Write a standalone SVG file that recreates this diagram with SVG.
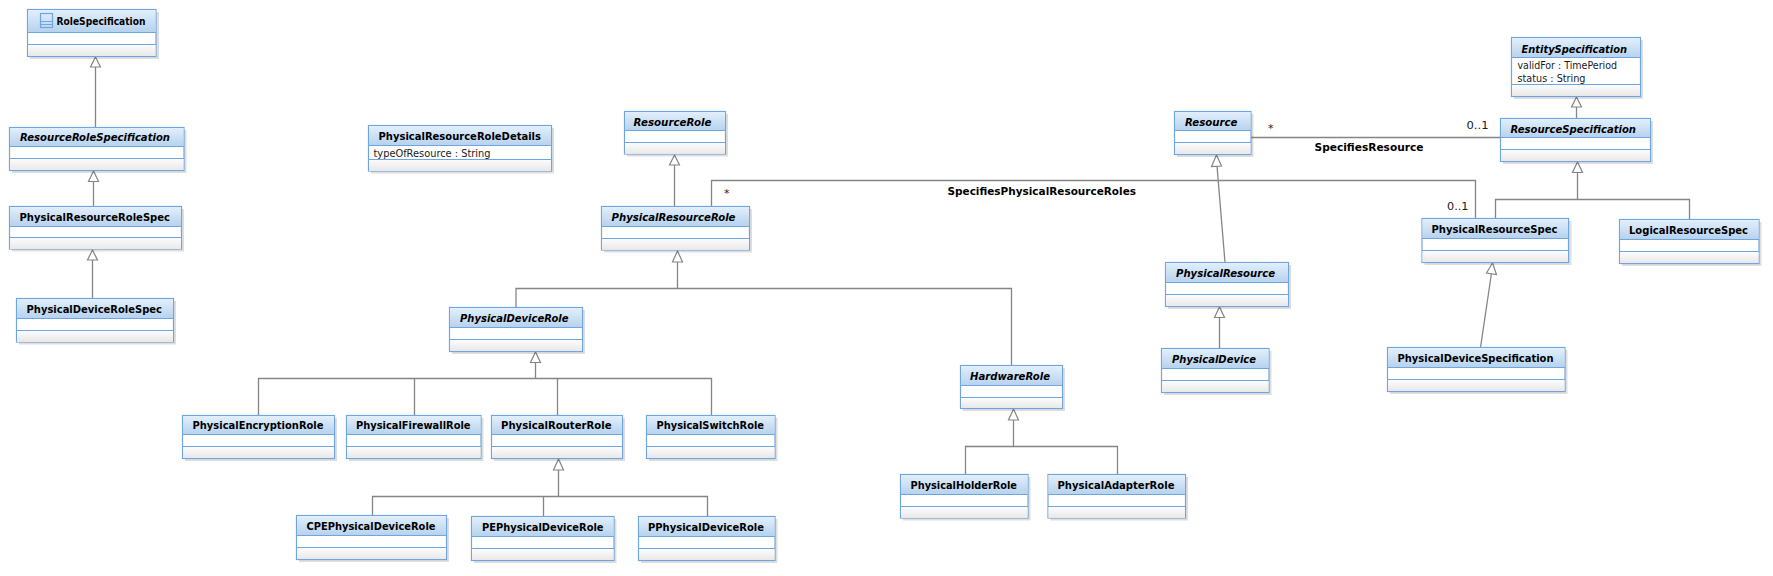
<svg xmlns="http://www.w3.org/2000/svg" width="1773" height="576" viewBox="0 0 1773 576">
<style>
.bg{fill:#fff}
.sh{fill:#000;fill-opacity:.13}
.f{fill:#fff;stroke:#6fa5e0;stroke-width:1.2}
.h{fill:url(#hg)}
.b{fill:url(#bg)}
.l{stroke:#6fa5e0;stroke-width:1.2;fill:none}
.c{fill:none;stroke:#858585;stroke-width:1.3}
.a{fill:#fff;stroke:#858585;stroke-width:1.2}
text{font-family:"DejaVu Sans",Tahoma,sans-serif;font-size:11px;fill:#000}
.t{font-weight:bold}
.i{font-weight:bold;font-style:italic}
.n{font-size:11px;fill:#1a1a1a}
</style>
<defs>
<linearGradient id="hg" x1="0" y1="0" x2="0" y2="1"><stop offset="0" stop-color="#e2effb"/><stop offset="1" stop-color="#b6d2ee"/></linearGradient>
<linearGradient id="bg" x1="0" y1="0" x2="0" y2="1"><stop offset="0" stop-color="#fdfdfd"/><stop offset="1" stop-color="#e8e8e8"/></linearGradient>
</defs>
<rect class="bg" width="1773" height="576"/>
<g id="connectors">
<path class="c" d="M95.500 67V127.500M93.500 182V206.500M92.500 260V298.500"/>
<path class="a" d="M95.500 57l-5 10h10zM93.500 171l-5 10.500h10zM92.500 250l-5 10h10z"/>
<path class="c" d="M674.500 165V206.500M711.500 206.500V180.500H1475.500V218.500"/>
<path class="a" d="M674.500 155l-5 10h10z"/>
<path class="c" d="M677.500 262V288.500M516 307.500V288.500H1011.500V365.500"/>
<path class="a" d="M677.500 251l-5 11h10z"/>
<path class="c" d="M535.500 362.500V378.500M258.500 415.500V378.500H711.500V415.500M414.500 378.500V415.500M557.500 378.500V415.500"/>
<path class="a" d="M535.500 352l-5 10.500h10z"/>
<path class="c" d="M558.500 470V496.500M372.500 515.500V496.500H707.500V516.500M543.500 496.500V516.500"/>
<path class="a" d="M558.500 459l-5 11h10z"/>
<path class="c" d="M1013.500 420V446.500M965.500 474.500V446.500H1117.500V474.500"/>
<path class="a" d="M1013.500 409l-5 11h10z"/>
<path class="c" d="M1251 137.500H1500.500"/>
<path class="c" d="M1217 166L1225 262.500"/>
<path class="a" d="M1216.500 155l-5 11.500 10 -.5z"/>
<path class="c" d="M1219.500 317.500V348.500"/>
<path class="a" d="M1219.500 307l-5 10.500h10z"/>
<path class="c" d="M1576.500 107V118.500"/>
<path class="a" d="M1576.500 97l-5 10h10z"/>
<path class="c" d="M1577.500 172V199.500M1495.500 218.500V199.500H1689.500V219.500"/>
<path class="a" d="M1577.500 162l-5 10.500h10z"/>
<path class="c" d="M1480.500 347.500L1491.500 273"/>
<path class="a" d="M1492.500 263l-6 10 10 1.500z"/>
<text class="n" x="724" y="197">*</text>
<text class="n" x="1268" y="132">*</text>
<text class="n" x="1466.500" y="129" textLength="22" lengthAdjust="spacingAndGlyphs">0..1</text>
<text class="n" x="1447" y="210" textLength="21.500" lengthAdjust="spacingAndGlyphs">0..1</text>
<text class="t" x="1314.500" y="150.500" textLength="109" lengthAdjust="spacingAndGlyphs">SpecifiesResource</text>
<text class="t" x="947.500" y="195" textLength="188.500" lengthAdjust="spacingAndGlyphs">SpecifiesPhysicalResourceRoles</text>
</g>
<g id="RoleSpecification"><rect class="sh" x="30" y="12" width="129" height="47"/><rect class="f" x="27.500" y="9.500" width="128.500" height="47"/><rect class="h" x="28" y="10" width="127.500" height="22"/><rect class="b" x="28" y="44" width="127.500" height="12"/><path class="l" d="M27.500 32.500H156M27.500 44.500H156"/><rect class="f" x="40.500" y="13.500" width="12" height="14" fill-opacity="0"/><path class="l" d="M40.500 21.500H52.500M40.500 24.500H52.500"/><text class="t" x="56.500" y="25" textLength="89" lengthAdjust="spacingAndGlyphs">RoleSpecification</text></g>
<g id="ResourceRoleSpecification"><rect class="sh" x="12" y="130" width="174.500" height="43"/><rect class="f" x="9.500" y="127.500" width="174.500" height="43"/><rect class="h" x="10" y="128" width="173.500" height="18"/><rect class="b" x="10" y="158" width="173.500" height="12"/><path class="l" d="M9.500 146.500H184M9.500 158.500H184"/><text class="i" x="20" y="141" textLength="150" lengthAdjust="spacingAndGlyphs">ResourceRoleSpecification</text></g>
<g id="PhysicalResourceRoleSpec"><rect class="sh" x="12" y="209" width="172" height="42.500"/><rect class="f" x="9.500" y="206.500" width="172" height="42.500"/><rect class="h" x="10" y="207" width="171" height="19"/><rect class="b" x="10" y="237" width="171" height="12"/><path class="l" d="M9.500 226.500H181.500M9.500 237.500H181.500"/><text class="t" x="19.500" y="220.500" textLength="150.500" lengthAdjust="spacingAndGlyphs">PhysicalResourceRoleSpec</text></g>
<g id="PhysicalDeviceRoleSpec"><rect class="sh" x="19" y="301" width="157" height="43.500"/><rect class="f" x="16.500" y="298.500" width="157" height="43.500"/><rect class="h" x="17" y="299" width="156" height="19"/><rect class="b" x="17" y="330" width="156" height="12"/><path class="l" d="M16.500 318.500H173.500M16.500 330.500H173.500"/><text class="t" x="26.500" y="312.500" textLength="135.500" lengthAdjust="spacingAndGlyphs">PhysicalDeviceRoleSpec</text></g>
<g id="PhysicalResourceRoleDetails"><rect class="sh" x="371" y="128" width="183" height="45.500"/><rect class="f" x="368.500" y="125.500" width="183" height="45.500"/><rect class="h" x="369" y="126" width="182" height="19.500"/><rect class="b" x="369" y="159" width="182" height="12"/><path class="l" d="M368.500 145.500H551.500M368.500 159.500H551.500"/><text class="t" x="378.500" y="140" textLength="162.500" lengthAdjust="spacingAndGlyphs">PhysicalResourceRoleDetails</text><text class="n" x="373.500" y="156.500" textLength="117" lengthAdjust="spacingAndGlyphs">typeOfResource : String</text></g>
<g id="ResourceRole"><rect class="sh" x="627" y="114" width="101" height="42.500"/><rect class="f" x="624.500" y="111.500" width="101" height="42.500"/><rect class="h" x="625" y="112" width="100" height="18.500"/><rect class="b" x="625" y="142" width="100" height="12"/><path class="l" d="M624.500 130.500H725.500M624.500 142.500H725.500"/><text class="i" x="633.500" y="126" textLength="78" lengthAdjust="spacingAndGlyphs">ResourceRole</text></g>
<g id="PhysicalResourceRole"><rect class="sh" x="604" y="209" width="148" height="43.500"/><rect class="f" x="601.500" y="206.500" width="148" height="43.500"/><rect class="h" x="602" y="207" width="147" height="19"/><rect class="b" x="602" y="238" width="147" height="12"/><path class="l" d="M601.500 226.500H749.500M601.500 238.500H749.500"/><text class="i" x="611.500" y="220.500" textLength="124" lengthAdjust="spacingAndGlyphs">PhysicalResourceRole</text></g>
<g id="PhysicalDeviceRole"><rect class="sh" x="452" y="310" width="133" height="44"/><rect class="f" x="449.500" y="307.500" width="133" height="44"/><rect class="h" x="450" y="308" width="132" height="19.500"/><rect class="b" x="450" y="340" width="132" height="11"/><path class="l" d="M449.500 327.500H582.500M449.500 339.500H582.500"/><text class="i" x="460" y="321.500" textLength="108.500" lengthAdjust="spacingAndGlyphs">PhysicalDeviceRole</text></g>
<g id="PhysicalEncryptionRole"><rect class="sh" x="185" y="418" width="152" height="43"/><rect class="f" x="182.500" y="415.500" width="152" height="43"/><rect class="h" x="183" y="416" width="151" height="18.500"/><rect class="b" x="183" y="447" width="151" height="11"/><path class="l" d="M182.500 434.500H334.500M182.500 446.500H334.500"/><text class="t" x="192.500" y="428.500" textLength="131" lengthAdjust="spacingAndGlyphs">PhysicalEncryptionRole</text></g>
<g id="PhysicalFirewallRole"><rect class="sh" x="349" y="418" width="134.500" height="43"/><rect class="f" x="346.500" y="415.500" width="134.500" height="43"/><rect class="h" x="347" y="416" width="133.500" height="18.500"/><rect class="b" x="347" y="447" width="133.500" height="11"/><path class="l" d="M346.500 434.500H481M346.500 446.500H481"/><text class="t" x="356" y="428.500" textLength="114.500" lengthAdjust="spacingAndGlyphs">PhysicalFirewallRole</text></g>
<g id="PhysicalRouterRole"><rect class="sh" x="494" y="418" width="131" height="43"/><rect class="f" x="491.500" y="415.500" width="131" height="43"/><rect class="h" x="492" y="416" width="130" height="18.500"/><rect class="b" x="492" y="447" width="130" height="11"/><path class="l" d="M491.500 434.500H622.500M491.500 446.500H622.500"/><text class="t" x="501" y="428.500" textLength="110.500" lengthAdjust="spacingAndGlyphs">PhysicalRouterRole</text></g>
<g id="PhysicalSwitchRole"><rect class="sh" x="649" y="418" width="128.500" height="43"/><rect class="f" x="646.500" y="415.500" width="128.500" height="43"/><rect class="h" x="647" y="416" width="127.500" height="18.500"/><rect class="b" x="647" y="447" width="127.500" height="11"/><path class="l" d="M646.500 434.500H775M646.500 446.500H775"/><text class="t" x="656.500" y="428.500" textLength="107.500" lengthAdjust="spacingAndGlyphs">PhysicalSwitchRole</text></g>
<g id="CPEPhysicalDeviceRole"><rect class="sh" x="299" y="518" width="150" height="44"/><rect class="f" x="296.500" y="515.500" width="150" height="44"/><rect class="h" x="297" y="516" width="149" height="19.500"/><rect class="b" x="297" y="548" width="149" height="11"/><path class="l" d="M296.500 535.500H446.500M296.500 547.500H446.500"/><text class="t" x="306.500" y="530" textLength="129" lengthAdjust="spacingAndGlyphs">CPEPhysicalDeviceRole</text></g>
<g id="PEPhysicalDeviceRole"><rect class="sh" x="474" y="519" width="142.500" height="44"/><rect class="f" x="471.500" y="516.500" width="142.500" height="44"/><rect class="h" x="472" y="517" width="141.500" height="19.500"/><rect class="b" x="472" y="549" width="141.500" height="11"/><path class="l" d="M471.500 536.500H614M471.500 548.500H614"/><text class="t" x="482" y="531" textLength="121.500" lengthAdjust="spacingAndGlyphs">PEPhysicalDeviceRole</text></g>
<g id="PPhysicalDeviceRole"><rect class="sh" x="641" y="519" width="136.500" height="44"/><rect class="f" x="638.500" y="516.500" width="136.500" height="44"/><rect class="h" x="639" y="517" width="135.500" height="19.500"/><rect class="b" x="639" y="549" width="135.500" height="11"/><path class="l" d="M638.500 536.500H775M638.500 548.500H775"/><text class="t" x="648" y="531" textLength="116" lengthAdjust="spacingAndGlyphs">PPhysicalDeviceRole</text></g>
<g id="HardwareRole"><rect class="sh" x="963" y="368" width="102" height="43"/><rect class="f" x="960.500" y="365.500" width="102" height="43"/><rect class="h" x="961" y="366" width="101" height="19.500"/><rect class="b" x="961" y="398" width="101" height="10"/><path class="l" d="M960.500 385.500H1062.500M960.500 397.500H1062.500"/><text class="i" x="970" y="380" textLength="80" lengthAdjust="spacingAndGlyphs">HardwareRole</text></g>
<g id="PhysicalHolderRole"><rect class="sh" x="903" y="477" width="127.500" height="43.500"/><rect class="f" x="900.500" y="474.500" width="127.500" height="43.500"/><rect class="h" x="901" y="475" width="126.500" height="19.500"/><rect class="b" x="901" y="507" width="126.500" height="11"/><path class="l" d="M900.500 494.500H1028M900.500 506.500H1028"/><text class="t" x="910.500" y="489" textLength="106.500" lengthAdjust="spacingAndGlyphs">PhysicalHolderRole</text></g>
<g id="PhysicalAdapterRole"><rect class="sh" x="1050.500" y="477" width="137.500" height="43.500"/><rect class="f" x="1048" y="474.500" width="137.500" height="43.500"/><rect class="h" x="1048.500" y="475" width="136.500" height="19.500"/><rect class="b" x="1048.500" y="507" width="136.500" height="11"/><path class="l" d="M1048 494.500H1185.500M1048 506.500H1185.500"/><text class="t" x="1057.500" y="489" textLength="117" lengthAdjust="spacingAndGlyphs">PhysicalAdapterRole</text></g>
<g id="Resource"><rect class="sh" x="1177" y="114" width="76.500" height="43"/><rect class="f" x="1174.500" y="111.500" width="76.500" height="43"/><rect class="h" x="1175" y="112" width="75.500" height="18.500"/><rect class="b" x="1175" y="143" width="75.500" height="11"/><path class="l" d="M1174.500 130.500H1251M1174.500 142.500H1251"/><text class="i" x="1185" y="126" textLength="52.500" lengthAdjust="spacingAndGlyphs">Resource</text></g>
<g id="PhysicalResource"><rect class="sh" x="1168" y="265" width="123" height="44"/><rect class="f" x="1165.500" y="262.500" width="123" height="44"/><rect class="h" x="1166" y="263" width="122" height="19.500"/><rect class="b" x="1166" y="295" width="122" height="11"/><path class="l" d="M1165.500 282.500H1288.500M1165.500 294.500H1288.500"/><text class="i" x="1176" y="276.500" textLength="99" lengthAdjust="spacingAndGlyphs">PhysicalResource</text></g>
<g id="PhysicalDevice"><rect class="sh" x="1164" y="351" width="107.500" height="44"/><rect class="f" x="1161.500" y="348.500" width="107.500" height="44"/><rect class="h" x="1162" y="349" width="106.500" height="19.500"/><rect class="b" x="1162" y="381" width="106.500" height="11"/><path class="l" d="M1161.500 368.500H1269M1161.500 380.500H1269"/><text class="i" x="1172" y="362.500" textLength="84" lengthAdjust="spacingAndGlyphs">PhysicalDevice</text></g>
<g id="EntitySpecification"><rect class="sh" x="1514" y="40" width="129" height="59"/><rect class="f" x="1511.500" y="37.500" width="129" height="59"/><rect class="h" x="1512" y="38" width="128" height="19.500"/><rect class="b" x="1512" y="84.500" width="128" height="11.500"/><path class="l" d="M1511.500 57.500H1640.500M1511.500 84.500H1640.500"/><text class="i" x="1521.500" y="52.500" textLength="105.500" lengthAdjust="spacingAndGlyphs">EntitySpecification</text><text class="n" x="1517.500" y="69" textLength="99.500" lengthAdjust="spacingAndGlyphs">validFor : TimePeriod</text><text class="n" x="1517.500" y="82" textLength="68" lengthAdjust="spacingAndGlyphs">status : String</text></g>
<g id="ResourceSpecification"><rect class="sh" x="1503" y="121" width="150" height="43"/><rect class="f" x="1500.500" y="118.500" width="150" height="43"/><rect class="h" x="1501" y="119" width="149" height="18.500"/><rect class="b" x="1501" y="150" width="149" height="11"/><path class="l" d="M1500.500 137.500H1650.500M1500.500 149.500H1650.500"/><text class="i" x="1510.500" y="133" textLength="125.500" lengthAdjust="spacingAndGlyphs">ResourceSpecification</text></g>
<g id="PhysicalResourceSpec"><rect class="sh" x="1424.500" y="221" width="147" height="44"/><rect class="f" x="1422" y="218.500" width="146.500" height="44"/><rect class="h" x="1422.500" y="219" width="145.500" height="19.500"/><rect class="b" x="1422.500" y="251" width="145.500" height="11"/><path class="l" d="M1422 238.500H1568.500M1422 250.500H1568.500"/><text class="t" x="1431.500" y="233" textLength="126" lengthAdjust="spacingAndGlyphs">PhysicalResourceSpec</text></g>
<g id="LogicalResourceSpec"><rect class="sh" x="1622" y="222" width="139.500" height="44"/><rect class="f" x="1619.500" y="219.500" width="139.500" height="44"/><rect class="h" x="1620" y="220" width="138.500" height="19.500"/><rect class="b" x="1620" y="252" width="138.500" height="11"/><path class="l" d="M1619.500 239.500H1759M1619.500 251.500H1759"/><text class="t" x="1629" y="234" textLength="119" lengthAdjust="spacingAndGlyphs">LogicalResourceSpec</text></g>
<g id="PhysicalDeviceSpecification"><rect class="sh" x="1390" y="350" width="177.500" height="44"/><rect class="f" x="1387.500" y="347.500" width="177.500" height="44"/><rect class="h" x="1388" y="348" width="176.500" height="19.500"/><rect class="b" x="1388" y="380" width="176.500" height="11"/><path class="l" d="M1387.500 367.500H1565M1387.500 379.500H1565"/><text class="t" x="1397.500" y="361.500" textLength="156" lengthAdjust="spacingAndGlyphs">PhysicalDeviceSpecification</text></g>
</svg>
